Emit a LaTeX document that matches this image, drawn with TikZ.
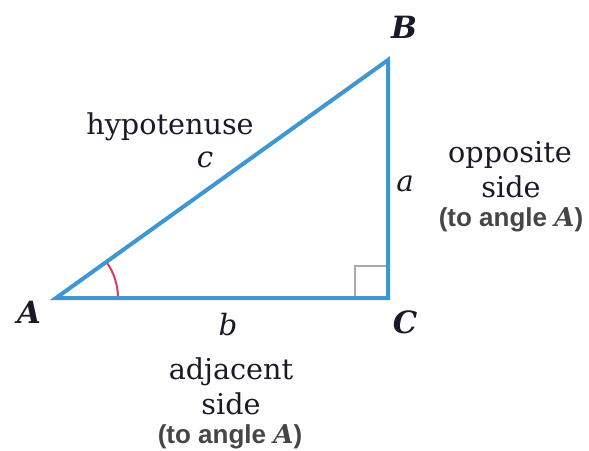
\documentclass[tikz,border=0pt]{standalone}
\usepackage{fontspec}
\usetikzlibrary{calc}
\newfontfamily\sansb{Liberation Sans}
\newfontfamily\serifd{DejaVu Serif}
\definecolor{triblue}{RGB}{62,150,210}
\definecolor{arcred}{RGB}{215,60,95}
\definecolor{sqgray}{RGB}{170,170,170}
\definecolor{txt}{RGB}{25,25,40}
\definecolor{sanstxt}{RGB}{70,70,70}
\begin{document}
\begin{tikzpicture}[x=0.75pt,y=-0.75pt,
  side/.style={draw=triblue,line width=3pt,line join=miter},
  lbl/.style={text=txt,font=\fontsize{21.5}{24}\selectfont\serifd,inner sep=0pt},
  ilbl/.style={text=txt,font=\fontsize{22}{24}\selectfont\serifd\itshape,inner sep=0pt},
  vlbl/.style={text=txt,font=\fontsize{23}{25}\selectfont\serifd\bfseries\itshape,inner sep=0pt},
  note/.style={text=sanstxt,font=\fontsize{19.5}{21}\selectfont\sansb\bfseries,inner sep=0pt}]
\useasboundingbox (0,0) rectangle (589,450);
\coordinate (A) at (56,298);
\coordinate (C) at (388,298);
\coordinate (B) at (388,60);
% right angle marker
\draw[sqgray,line width=1.5pt] ($(C)+(-33,0)$) |- ($(C)+(0,-32)$);
% angle arc
\draw[arcred,line width=1.5pt] ($(A)+(62,0)$) arc[start angle=0,end angle=35.6,radius=62*0.75pt];
% triangle
\draw[side] (A) -- (C) -- (B) -- cycle;
% vertex labels
\node[vlbl] (lA) at (29,312) {A};
\node[vlbl] (lB) at (404,27) {B};
\node[vlbl] (lC) at (405,322) {C};
% side labels
\node[ilbl] (la) at (405,184) {a};
\node[ilbl] (lb) at (228,325) {b};
\node[ilbl] (lc) at (205,160) {c};
\node[lbl] (hyp) at (170,127) {hypotenuse};
\node[lbl] (opp) at (510,155) {opposite};
\node[lbl] (os) at (511,187) {side};
\node[note] (ota) at (511,220) {(to angle {\serifd\itshape A})};
\node[lbl] (adj) at (231,372) {adjacent};
\node[lbl] (as) at (231,404) {side};
\node[note] (ata) at (230,437) {(to angle {\serifd\itshape A})};
\end{tikzpicture}
\end{document}
